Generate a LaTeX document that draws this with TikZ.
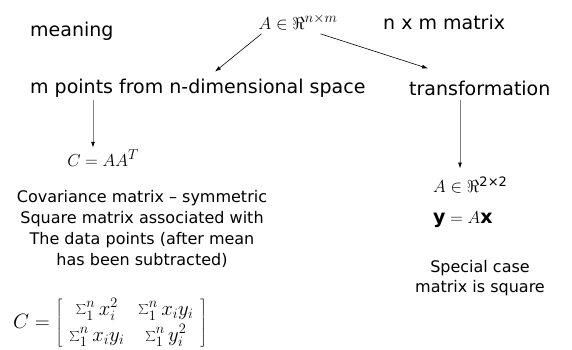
\documentclass[tikz,border=0pt]{standalone}
\usepackage{fontspec}
\setmainfont{DejaVu Sans}
\usetikzlibrary{arrows.meta,calc}
\begin{document}
\begin{tikzpicture}[x=1pt,y=-1pt,
  big/.style={inner sep=0pt, font=\fontsize{19}{23}\selectfont},
  small/.style={inner sep=0pt, font=\fontsize{16}{20.7}\selectfont, align=center},
  mth/.style={inner sep=0pt, font=\fontsize{19}{23}\selectfont},
  bigmth/.style={inner sep=0pt, font=\fontsize{21}{25}\selectfont},
  arr/.style={line width=0.6pt, -{Latex[length=6pt,width=4pt]}},
  varr/.style={line width=0.8pt, draw=gray, -{Latex[length=6pt,width=4pt,black]}}]
\useasboundingbox (0,0) rectangle (572,349);
\node[big,anchor=west] (mean) at (30,31) {meaning};
\node[mth] (A) at (298,22) {$A\in\Re^{n\times m}$};
\node[big,anchor=west] (nxm) at (383,22) {n x m matrix};
\node[big,anchor=west] (mp) at (30,88) {m points from n-dimensional space};
\node[big,anchor=west] (tr) at (409,88) {transformation};
\node[mth] (C) at (103,158) {$C=AA^T$};
\node[small] (cov) at (142,229) {Covariance matrix – symmetric\\Square matrix associated with\\The data points (after mean\\has been subtracted)};
\node[bigmth,anchor=west] (M) at (13,323) {\setlength{\arraycolsep}{7pt}\renewcommand{\arraystretch}{1.05}$C=\left[\begin{array}{cc}\sum_1^n x_i^2 & \sum_1^n x_iy_i\\ \sum_1^n x_iy_i & \sum_1^n y_i^2\end{array}\right]$};
\node[mth,anchor=west] (A2) at (433,185) {$A\in\Re^{\mbox{\fontsize{13}{13}\selectfont 2×2}}$};
\node[mth,anchor=west] (yx) at (433,220) {$\mathbf{y}=A\mathbf{x}$};
\node[small] (sp) at (480,278) {Special case\\matrix is square};
\draw[arr] ($(A.south west)+(3,4)$) -- ($(mp.north west)+(185,-7)$);
\draw[arr] ($(A.south east)+(-17,4)$) -- ($(tr.north west)+(19,-12)$);
\path ($(mp.south west)+(63,3)$) coordinate (s1);
\draw[varr, shorten >=2pt] (s1) -- (s1 |- C.north);
\path ($(tr.south west)+(51,4)$) coordinate (s2);
\draw[varr, shorten >=8pt] (s2) -- (s2 |- A2.north);
\end{tikzpicture}
\end{document}
